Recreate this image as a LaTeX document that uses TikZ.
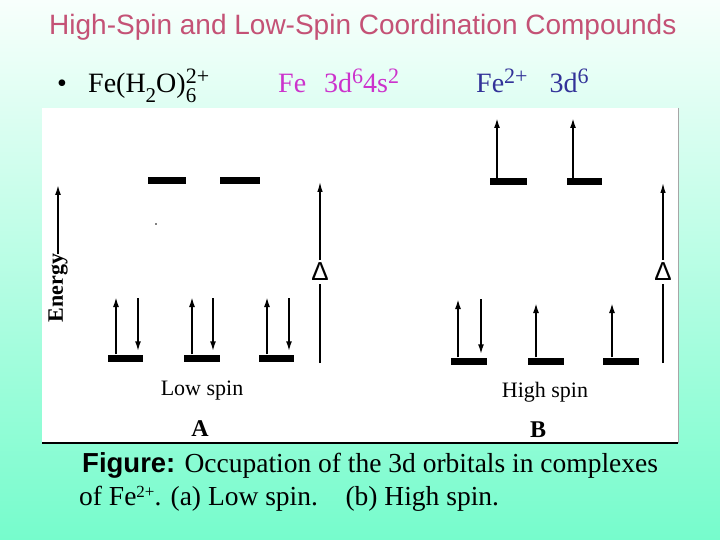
\documentclass[tikz,border=0pt]{standalone}
\usepackage{fontspec}
\setmainfont{Liberation Serif}
\newfontfamily\arialf{Liberation Sans}
\usetikzlibrary{arrows.meta}
\definecolor{titlec}{RGB}{196,82,118}
\definecolor{magc}{RGB}{204,51,204}
\definecolor{bluec}{RGB}{51,51,153}
\definecolor{bgtop}{RGB}{248,255,252}
\definecolor{bgbot}{RGB}{118,252,204}
\newcommand{\mysup}[1]{\raisebox{0.75ex}{\fontsize{22}{22}\selectfont #1}}
\newcommand{\mysub}[1]{\raisebox{-0.75ex}{\fontsize{21}{21}\selectfont #1}}
\newcommand{\capsup}[1]{\raisebox{0.6ex}{\fontsize{17}{17}\selectfont #1}}
\begin{document}
\begin{tikzpicture}[x=1pt,y=-1pt,
  bar/.style={fill=black,draw=none,inner sep=0pt,minimum height=7pt},
  spin/.style={line width=1.8pt,-{Latex[length=10pt,width=6pt]}},
  spindn/.style={line width=1.8pt,-{Latex[length=10pt,width=6pt]},shorten >=3pt},
  delarr/.style={line width=1.3pt,-{Latex[length=10pt,width=5.5pt]}},
  delline/.style={line width=1.6pt},
  lbl/.style={font=\fontsize{22}{24}\selectfont,inner sep=0pt},
  bold/.style={font=\fontsize{24}{26}\selectfont\bfseries,inner sep=0pt},
  delta/.style={font=\arialf\fontsize{26}{28}\selectfont,inner sep=0pt,outer sep=3pt},
  line2/.style={font=\fontsize{28}{30}\selectfont,inner sep=0pt,anchor=base west},
  capt/.style={font=\fontsize{27.5}{30}\selectfont,inner sep=0pt,anchor=base west}]
\useasboundingbox (0,0) rectangle (720,540);
\shade[top color=bgtop,bottom color=bgbot] (0,0) rectangle (720,540);
% white figure panel
\fill[white] (42,108) rectangle (678,443);
\draw[line width=1.3pt] (42,443) -- (678,443);
\draw[black!35,line width=0.6pt] (678,108) -- (678,443);

% title and formula line
\node[inner sep=0pt,anchor=base west,text=titlec,font=\arialf\fontsize{28}{30}\selectfont] (title) at (49,35) {High-Spin and Low-Spin Coordination Compounds};
\node[line2] (bul) at (57,93) {\textbullet};
\node[line2] (cpd) at (88,93) {Fe(H\mysub{2}O)\rlap{\mysub{6}}\mysup{2+}};
\node[line2,text=magc] (fe) at (278,93) {Fe\hspace{18pt}3d\mysup{6}4s\mysup{2}};
\node[line2,text=bluec] (fe2) at (476,93) {Fe\mysup{2+}\hspace{22pt}3d\mysup{6}};

% ---------- Panel A: low spin ----------
\node[bold,font=\fontsize{22}{24}\selectfont\bfseries,rotate=90] (energy) at (58,288) {Energy};
\coordinate (etop) at (58,185);
\draw[line width=1.6pt,-{Latex[length=10pt,width=6pt]}] (energy.east) -- (energy.east |- etop);

\node[bar,minimum width=38pt] (eA1) at (167,181) {};
\node[bar,minimum width=40pt] (eA2) at (240,181) {};
\fill (156,224) circle (0.9pt);
\node[bar,minimum width=35pt] (tA1) at (125.5,358) {};
\node[bar,minimum width=36pt] (tA2) at (202,358) {};
\node[bar,minimum width=35pt] (tA3) at (276.5,358) {};

\coordinate (uA1) at (116,297);
\coordinate (dA1) at (138,298);
\coordinate (uA2) at (192,297);
\coordinate (dA2) at (213,298);
\coordinate (uA3) at (267,297);
\coordinate (dA3) at (289,298);
\draw[spin] (uA1 |- tA1.north) -- (uA1);
\draw[spindn] (dA1) -- (dA1 |- tA1.north);
\draw[spin] (uA2 |- tA2.north) -- (uA2);
\draw[spindn] (dA2) -- (dA2 |- tA2.north);
\draw[spin] (uA3 |- tA3.north) -- (uA3);
\draw[spindn] (dA3) -- (dA3 |- tA3.north);

\node[delta] (delA) at (320,272) {Δ};
\coordinate (dAbot) at (320,363);
\coordinate (dAtop) at (320,182);
\draw[delline] (dAbot) -- (delA.south);
\draw[delarr] (delA.north) -- (dAtop);

\node[lbl] (lowspin) at (202,391) {Low spin};
\node[bold] (labA) at (200,429) {A};

% ---------- Panel B: high spin ----------
\node[bar,minimum width=37pt] (eB1) at (508.5,182) {};
\node[bar,minimum width=35pt] (eB2) at (584.5,182) {};
\node[bar,minimum width=36pt] (tB1) at (469,361) {};
\node[bar,minimum width=36pt] (tB2) at (546,361) {};
\node[bar,minimum width=36pt] (tB3) at (621,361) {};

\coordinate (uB4) at (497,118);
\coordinate (uB5) at (573,118);
\draw[spin] (uB4 |- eB1.north) -- (uB4);
\draw[spin] (uB5 |- eB2.north) -- (uB5);

\coordinate (uB1) at (458,299);
\coordinate (dB1) at (481,299);
\coordinate (uB2) at (536,303);
\coordinate (uB3) at (612,303);
\draw[spin] (uB1 |- tB1.north) -- (uB1);
\draw[spindn] (dB1) -- (dB1 |- tB1.north);
\draw[spin] (uB2 |- tB2.north) -- (uB2);
\draw[spin] (uB3 |- tB3.north) -- (uB3);

\node[delta] (delB) at (663,272) {Δ};
\coordinate (dBbot) at (663,363);
\coordinate (dBtop) at (663,183);
\draw[delline] (dBbot) -- (delB.south);
\draw[delarr] (delB.north) -- (dBtop);

\node[lbl] (highspin) at (545,392) {High spin};
\node[bold] (labB) at (538,430) {B};

% caption
\node[capt] (cap1) at (82,472) {{\arialf\bfseries Figure:} Occupation of the 3d orbitals in complexes};
\node[capt] (cap2) at (79,505) {of Fe\capsup{2+}. (a) Low spin.\ \ \ \ (b) High spin.};
\end{tikzpicture}
\end{document}
